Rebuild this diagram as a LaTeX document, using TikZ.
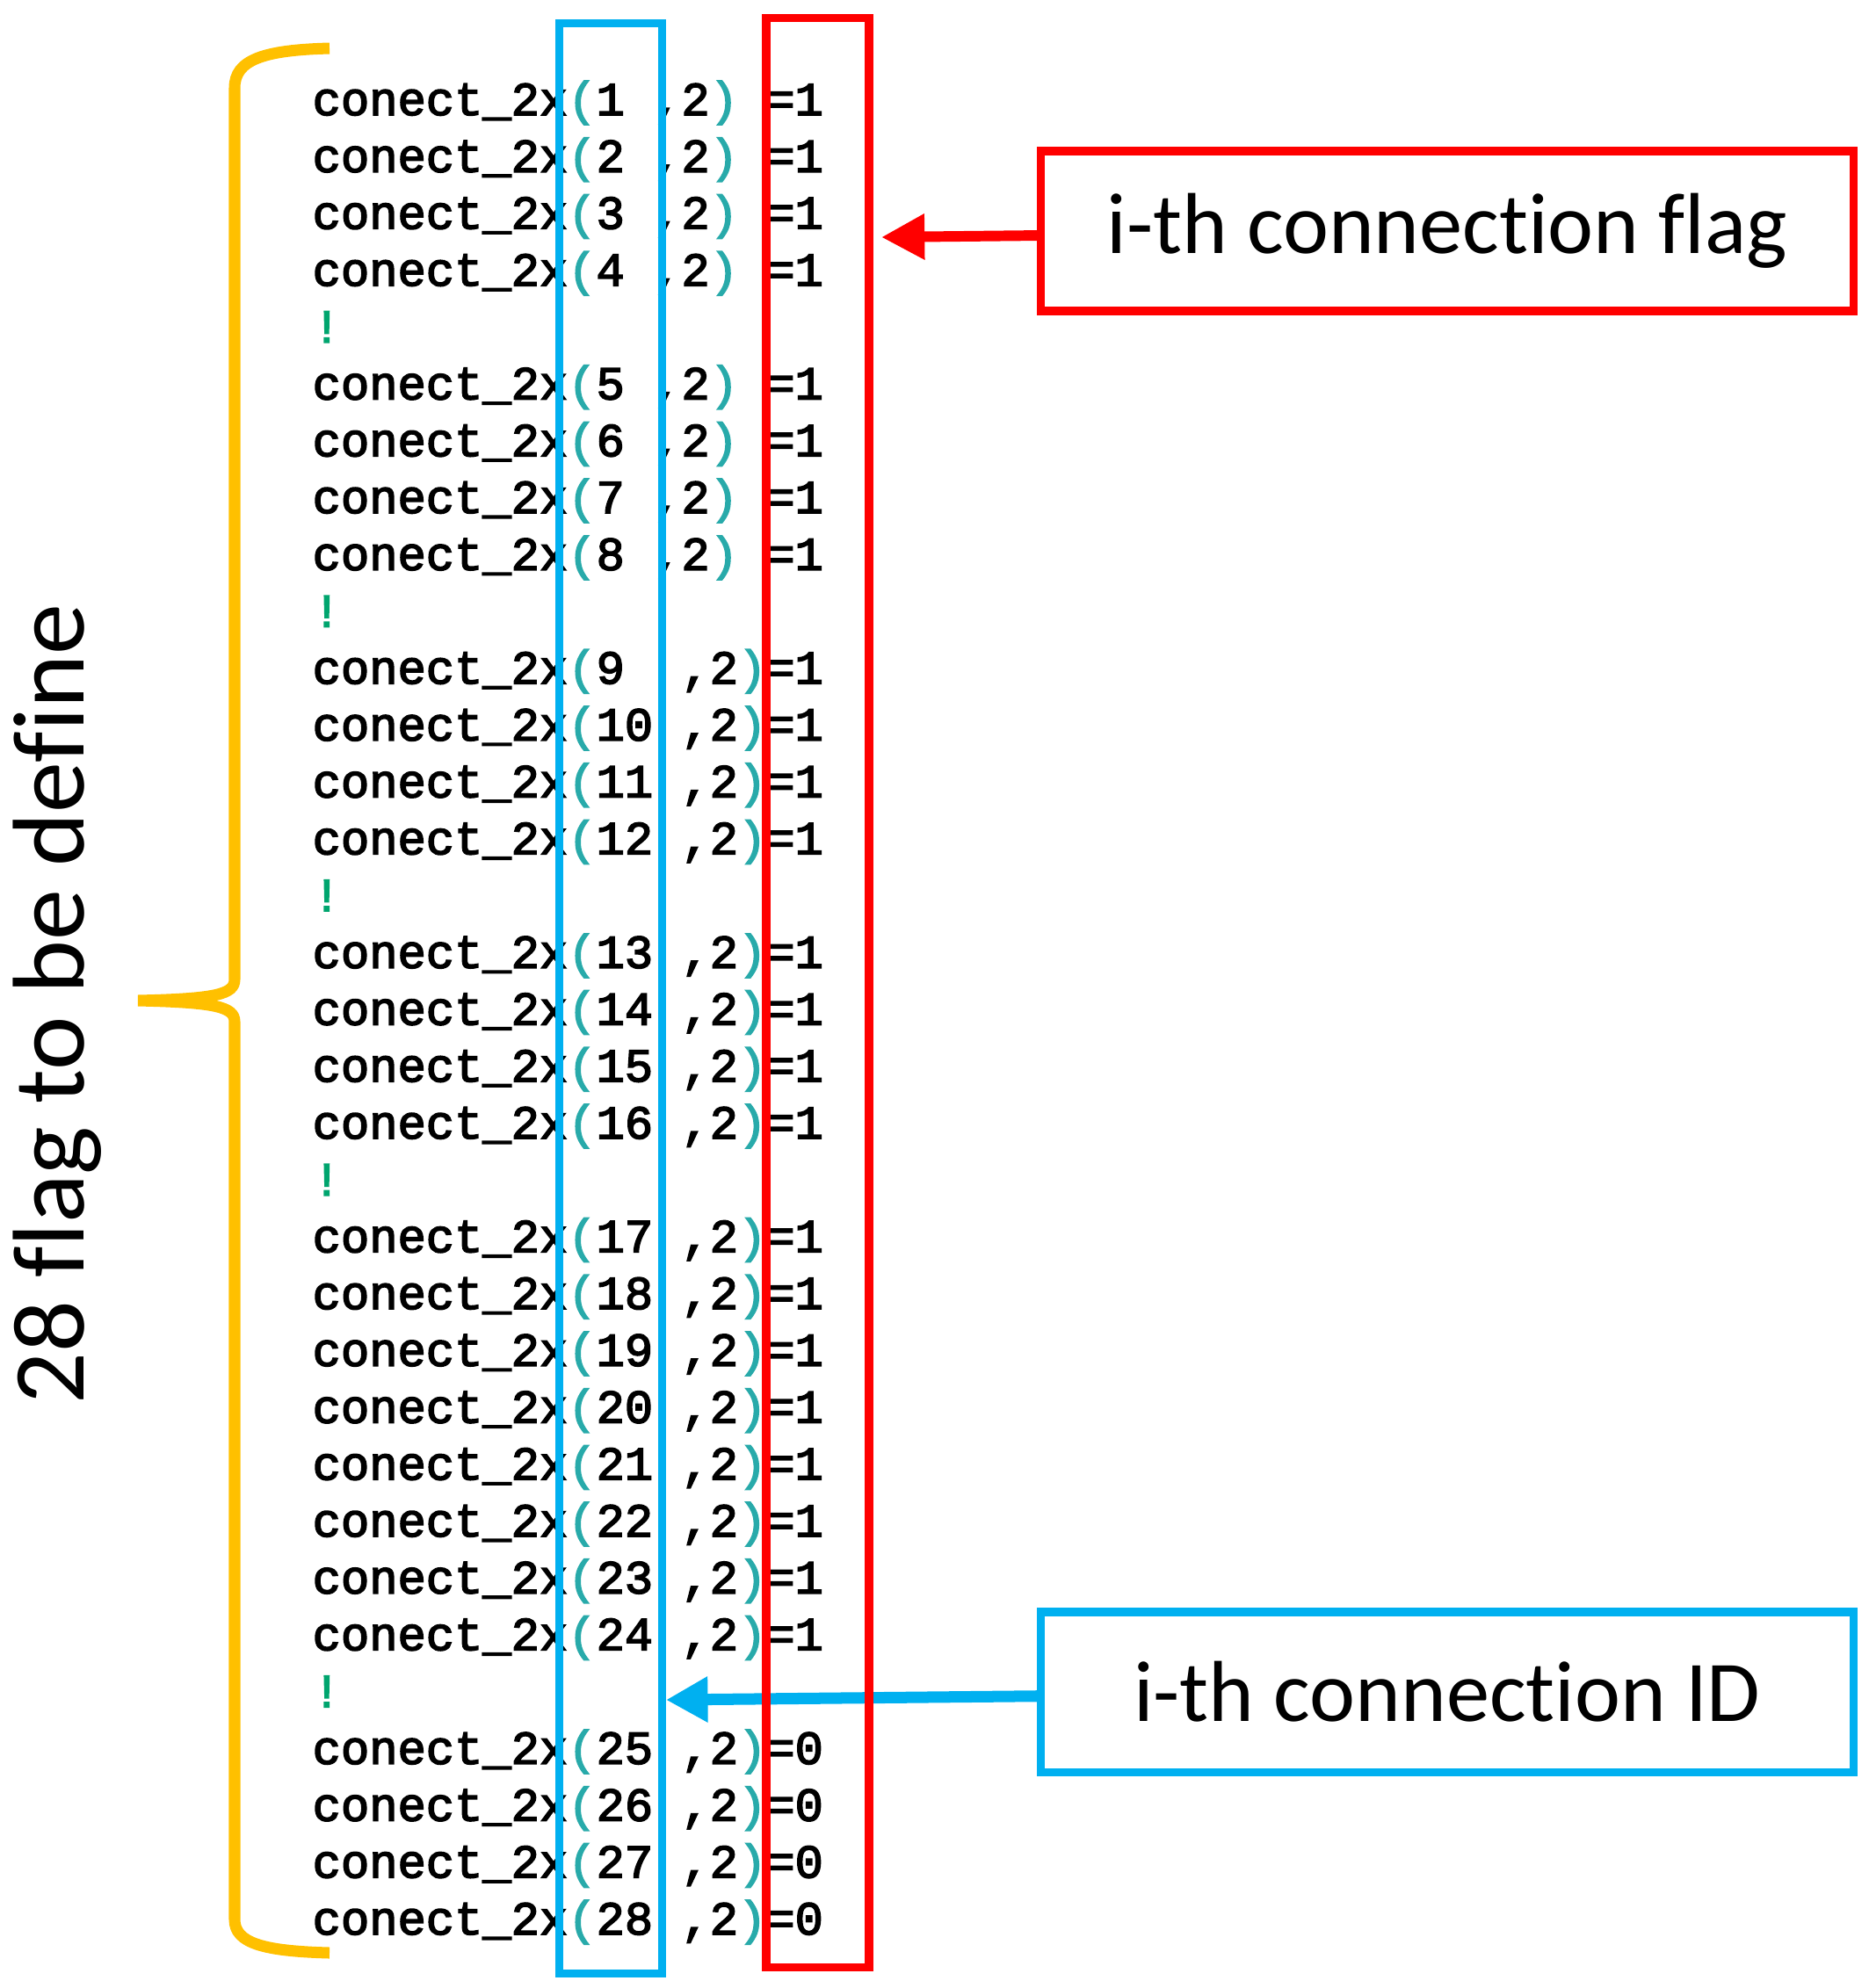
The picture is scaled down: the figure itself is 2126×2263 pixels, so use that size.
\documentclass[tikz,border=0pt]{standalone}
\usepackage{fontspec}
\setmainfont{Carlito}[RawFeature={-liga;-clig;-calt;-dlig}]
\newfontfamily\codefont[FakeBold=3]{Liberation Mono}
\usetikzlibrary{arrows.meta}
\definecolor{bracecol}{RGB}{255,192,0}
\definecolor{idblue}{RGB}{0,176,240}
\definecolor{flagred}{RGB}{255,0,0}
\definecolor{parcol}{RGB}{40,170,170}
\definecolor{bangcol}{RGB}{0,165,110}
\newcommand{\conect}[2]{conect\_2x\textcolor{parcol}{(}#1,2\textcolor{parcol}{)}#2}
\tikzset{
	code/.style={anchor=base west, inner sep=0pt, font=\codefont\fontsize{15.3}{18}\selectfont},
	bang/.style={code, text=bangcol},
	column/.style={draw, line width=2.6pt, minimum width=1.17cm, minimum height=22.18cm, inner sep=0pt},
	labelbox/.style={draw, line width=2.6pt, minimum width=9.24cm, minimum height=1.82cm, font=\fontsize{28}{34}\selectfont},
	flagarrow/.style={-{Triangle[length=14pt,width=14pt]}, flagred, line width=3.4pt},
	idarrow/.style={-{Triangle[length=13.5pt,width=14pt]}, idblue, line width=3.7pt}
}
\begin{document}
\begin{tikzpicture}[x=0.01cm, y=-0.01cm]
		\useasboundingbox (0,0) rectangle (2126,2263);

		\node[code](1) at (355,131) {\conect{1\ }{\ =1}};
		\node[code](2) at (355,195.7) {\conect{2\ }{\ =1}};
		\node[code](3) at (355,260.4) {\conect{3\ }{\ =1}};
		\node[code](4) at (355,325.2) {\conect{4\ }{\ =1}};
		\node[bang](e1) at (355,389.9) {!};
		\node[code](5) at (355,454.6) {\conect{5\ }{\ =1}};
		\node[code](6) at (355,519.3) {\conect{6\ }{\ =1}};
		\node[code](7) at (355,584.0) {\conect{7\ }{\ =1}};
		\node[code](8) at (355,648.8) {\conect{8\ }{\ =1}};
		\node[bang](e2) at (355,713.5) {!};
		\node[code](9) at (355,778.2) {\conect{9\ \ }{=1}};
		\node[code](10) at (355,842.9) {\conect{10\ }{=1}};
		\node[code](11) at (355,907.6) {\conect{11\ }{=1}};
		\node[code](12) at (355,972.4) {\conect{12\ }{=1}};
		\node[bang](e3) at (355,1037.1) {!};
		\node[code](13) at (355,1101.8) {\conect{13\ }{=1}};
		\node[code](14) at (355,1166.5) {\conect{14\ }{=1}};
		\node[code](15) at (355,1231.2) {\conect{15\ }{=1}};
		\node[code](16) at (355,1296.0) {\conect{16\ }{=1}};
		\node[bang](e4) at (355,1360.7) {!};
		\node[code](17) at (355,1425.4) {\conect{17\ }{=1}};
		\node[code](18) at (355,1490.1) {\conect{18\ }{=1}};
		\node[code](19) at (355,1554.8) {\conect{19\ }{=1}};
		\node[code](20) at (355,1619.6) {\conect{20\ }{=1}};
		\node[code](21) at (355,1684.3) {\conect{21\ }{=1}};
		\node[code](22) at (355,1749.0) {\conect{22\ }{=1}};
		\node[code](23) at (355,1813.7) {\conect{23\ }{=1}};
		\node[code](24) at (355,1878.4) {\conect{24\ }{=1}};
		\node[bang](e5) at (355,1943.2) {!};
		\node[code](25) at (355,2007.9) {\conect{25\ }{=0}};
		\node[code](26) at (355,2072.6) {\conect{26\ }{=0}};
		\node[code](27) at (355,2137.3) {\conect{27\ }{=0}};
		\node[code](28) at (355,2202.0) {\conect{28\ }{=0}};

		\node[rotate=90, font=\fontsize{33}{40}\selectfont](count) at (65,1143) {28 f\kern0pt lag to be define};
		\draw[bracecol, line width=3.7pt] (375,55) .. controls (300,57) and (267,68) .. (267,100) -- (267,1115)
			.. controls (267,1132) and (245,1137) .. (157,1139)
			.. controls (245,1141) and (267,1146) .. (267,1163) -- (267,2185)
			.. controls (267,2212) and (300,2221) .. (375,2223);

		\node[column, draw=idblue](idcol) at (695,1136.5) {};
		\node[labelbox, draw=idblue](id) at (1647,1926) {i-th connect\kern0pt ion ID};
		\coordinate (idtip) at (758,1935);
		\draw [idarrow](id) -- (idtip);

		\node[column, draw=flagred](flagcol) at (930.5,1130) {};
		\node[labelbox, draw=flagred](flag) at (1647,263) {i-th connect\kern0pt ion f\kern0pt lag};
		\coordinate (flagtip) at (1003,270);
		\draw [flagarrow](flag) -- (flagtip);
	\end{tikzpicture}
\end{document}
